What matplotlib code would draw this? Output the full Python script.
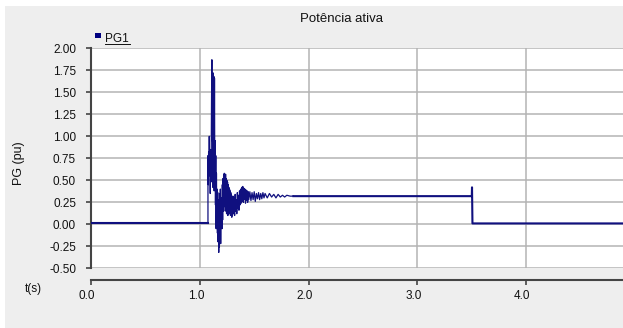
import matplotlib
matplotlib.use("Agg")
import matplotlib.pyplot as plt
import matplotlib.transforms as mtransforms
from matplotlib.patches import Rectangle
from matplotlib.lines import Line2D

plt.rcParams['font.family'] = ['Liberation Sans', 'DejaVu Sans']

# ---- data -------------------------------------------------------------
title = "Potência ativa"
series_name = "PG1"
y_label = "PG (pu)"
x_label = "t(s)"

# before the disturbance
t_pre = [0.0, 1.075]
pg_pre = [0.01, 0.01]

# first swing
t_spike = [1.075, 1.078, 1.081, 1.084, 1.087, 1.090, 1.093, 1.096, 1.099, 1.102,
           1.105, 1.108, 1.111, 1.114, 1.117, 1.120, 1.123, 1.126, 1.129, 1.132,
           1.135, 1.138, 1.141, 1.144, 1.147, 1.150, 1.153, 1.156, 1.159, 1.162,
           1.165, 1.168, 1.171, 1.174, 1.177, 1.180, 1.183, 1.186, 1.189, 1.192,
           1.195, 1.198]
pg_spike = [0.78, 0.45, 0.82, 0.55, 1.00, 0.60, 0.83, 0.35, 0.85, 0.48,
            0.80, 1.45, 1.87, 0.95, 1.70, 0.42, 1.72, 0.50, 1.68, 0.38,
            1.66, 0.46, 0.95, 0.22, 0.78, -0.05, 0.58, 0.05, 0.40, -0.10,
            0.36, -0.20, 0.28, -0.32, 0.22, -0.26, 0.35, -0.12, 0.40, -0.22,
            0.28, 0.00]

# second swing
t_swing = [1.201, 1.204, 1.207, 1.210, 1.213, 1.216, 1.219, 1.222, 1.225, 1.228,
           1.231, 1.234, 1.237, 1.240, 1.243, 1.246, 1.249, 1.252, 1.255, 1.258,
           1.261, 1.264, 1.267, 1.270, 1.273, 1.276, 1.279, 1.282, 1.285, 1.288,
           1.291, 1.294, 1.297]
pg_swing = [0.30, -0.05, 0.45, 0.05, 0.52, 0.15, 0.56, 0.20, 0.58, 0.22,
            0.55, 0.15, 0.57, 0.28, 0.52, 0.12, 0.50, 0.20, 0.48, 0.10,
            0.45, 0.15, 0.42, 0.12, 0.40, 0.18, 0.38, 0.10, 0.36, 0.14,
            0.33, 0.08, 0.30]

# damped oscillation
t_damp = [1.300, 1.305, 1.310, 1.315, 1.320, 1.325, 1.330, 1.335, 1.340, 1.345,
          1.350, 1.355, 1.360, 1.365, 1.370, 1.375, 1.380, 1.385, 1.390, 1.395,
          1.400, 1.405, 1.410, 1.415, 1.420, 1.425, 1.430, 1.435, 1.440, 1.445,
          1.450]
pg_damp = [0.10, 0.32, 0.12, 0.30, 0.10, 0.34, 0.15, 0.28, 0.12, 0.36,
           0.18, 0.33, 0.16, 0.38, 0.22, 0.40, 0.24, 0.42, 0.26, 0.43,
           0.25, 0.41, 0.28, 0.40, 0.24, 0.39, 0.27, 0.38, 0.25, 0.37,
           0.28]

# settling
t_settle = [1.46, 1.47, 1.48, 1.49, 1.50, 1.51, 1.52, 1.53, 1.54, 1.55,
            1.56, 1.57, 1.58, 1.59, 1.60,
            1.62, 1.64, 1.66, 1.68, 1.70, 1.72, 1.74, 1.76, 1.78, 1.80,
            1.83, 1.86]
pg_settle = [0.37, 0.27, 0.36, 0.28, 0.37, 0.26, 0.35, 0.29, 0.36, 0.28,
             0.35, 0.29, 0.36, 0.30, 0.35,
             0.30, 0.35, 0.31, 0.34, 0.30, 0.34, 0.31, 0.33, 0.31, 0.33,
             0.32, 0.32]

# plateau, trip and after
t_post = [1.86, 3.500, 3.502, 3.506, 5.0]
pg_post = [0.32, 0.32, 0.42, 0.01, 0.01]

x_ticks = [0.0, 1.0, 2.0, 3.0, 4.0, 5.0]
x_tick_labels = ["0.0", "1.0", "2.0", "3.0", "4.0", "5.0"]
y_ticks = [2.00, 1.75, 1.50, 1.25, 1.00, 0.75, 0.50, 0.25, 0.00, -0.25, -0.50]
y_tick_labels = ["2.00", "1.75", "1.50", "1.25", "1.00", "0.75", "0.50",
                 "0.25", "0.00", "-0.25", "-0.50"]

# ---- figure -----------------------------------------------------------
W, H, DPI = 623, 328, 100
fig = plt.figure(figsize=(W / DPI, H / DPI), dpi=DPI, facecolor="white")

panel_color = "#EEEEEE"
fig.patches.append(Rectangle((5 / W, 0), 1, 1 - 6 / H, transform=fig.transFigure,
                             facecolor=panel_color, edgecolor="none", zorder=-10))

left_px, right_px, top_px, bottom_px = 91, 635, 48.3, 268.3
ax = fig.add_axes([left_px / W, 1 - bottom_px / H,
                   (right_px - left_px) / W, (bottom_px - top_px) / H])
ax.set_facecolor("white")

line_color = "#10107F"
# steady parts drawn a little heavier than the fast transient
ax.plot(t_pre, pg_pre, color=line_color, lw=1.5, zorder=3)
ax.plot(t_post, pg_post, color=line_color, lw=1.5, zorder=3)
t_trans = t_pre[-1:] + t_spike + t_swing + t_damp + t_settle
pg_trans = pg_pre[-1:] + pg_spike + pg_swing + pg_damp + pg_settle
ax.plot(t_trans, pg_trans, color=line_color, lw=0.9, zorder=3)

ax.set_xlim(0, 5)
ax.set_ylim(-0.5, 2.0)
ax.set_xticks(x_ticks)
ax.set_xticklabels(x_tick_labels)
ax.set_yticks(y_ticks)
ax.set_yticklabels(y_tick_labels)

grid_color = "#B4B4B4"
ax.set_axisbelow(True)
ax.grid(True, color=grid_color, lw=1.1)

for side in ("top", "right"):
    ax.spines[side].set_visible(False)
spine_color = "#444444"
ax.spines["left"].set_color(spine_color)
ax.spines["left"].set_linewidth(1.5)
ax.spines["bottom"].set_color(spine_color)
ax.spines["bottom"].set_linewidth(1.5)
ax.spines["bottom"].set_position(("outward", 12 * 72 / DPI))

ax.tick_params(axis="y", direction="out", length=5 * 72 / DPI, width=1.2,
               color=spine_color, pad=10 * 72 / DPI, labelsize=8.5,
               labelcolor="#111111")
ax.tick_params(axis="x", direction="out", length=5 * 72 / DPI, width=1.2,
               color=spine_color, pad=5 * 72 / DPI, labelsize=8.5,
               labelcolor="#111111")

shift = mtransforms.ScaledTranslation(-4 / DPI, 0, fig.dpi_scale_trans)
for lbl in ax.get_xticklabels():
    lbl.set_transform(lbl.get_transform() + shift)

# texts
fig.text(341.7 / W, 1 - 18.5 / H, title, ha="center", va="center",
         fontsize=9.5, color="#111111")
fig.text(19 / W, 1 - 163 / H, y_label, ha="center", va="center",
         rotation=90, fontsize=9, color="#111111")
fig.text(33 / W, 1 - 289 / H, x_label, ha="center", va="center",
         fontsize=8.5, color="#111111")

# legend entry
fig.patches.append(Rectangle((95 / W, 1 - 38 / H), 6 / W, 5 / H,
                             transform=fig.transFigure, facecolor="#000080",
                             edgecolor="none"))
fig.text(105 / W, 1 - 38.5 / H, series_name, ha="left", va="center",
         fontsize=8.5, color="#111111")
fig.lines.append(Line2D([105 / W, 130 / W], [1 - 44 / H, 1 - 44 / H],
                        transform=fig.transFigure, color="#111111", lw=0.7))

fig.savefig("out.png", dpi=DPI, facecolor=fig.get_facecolor())
